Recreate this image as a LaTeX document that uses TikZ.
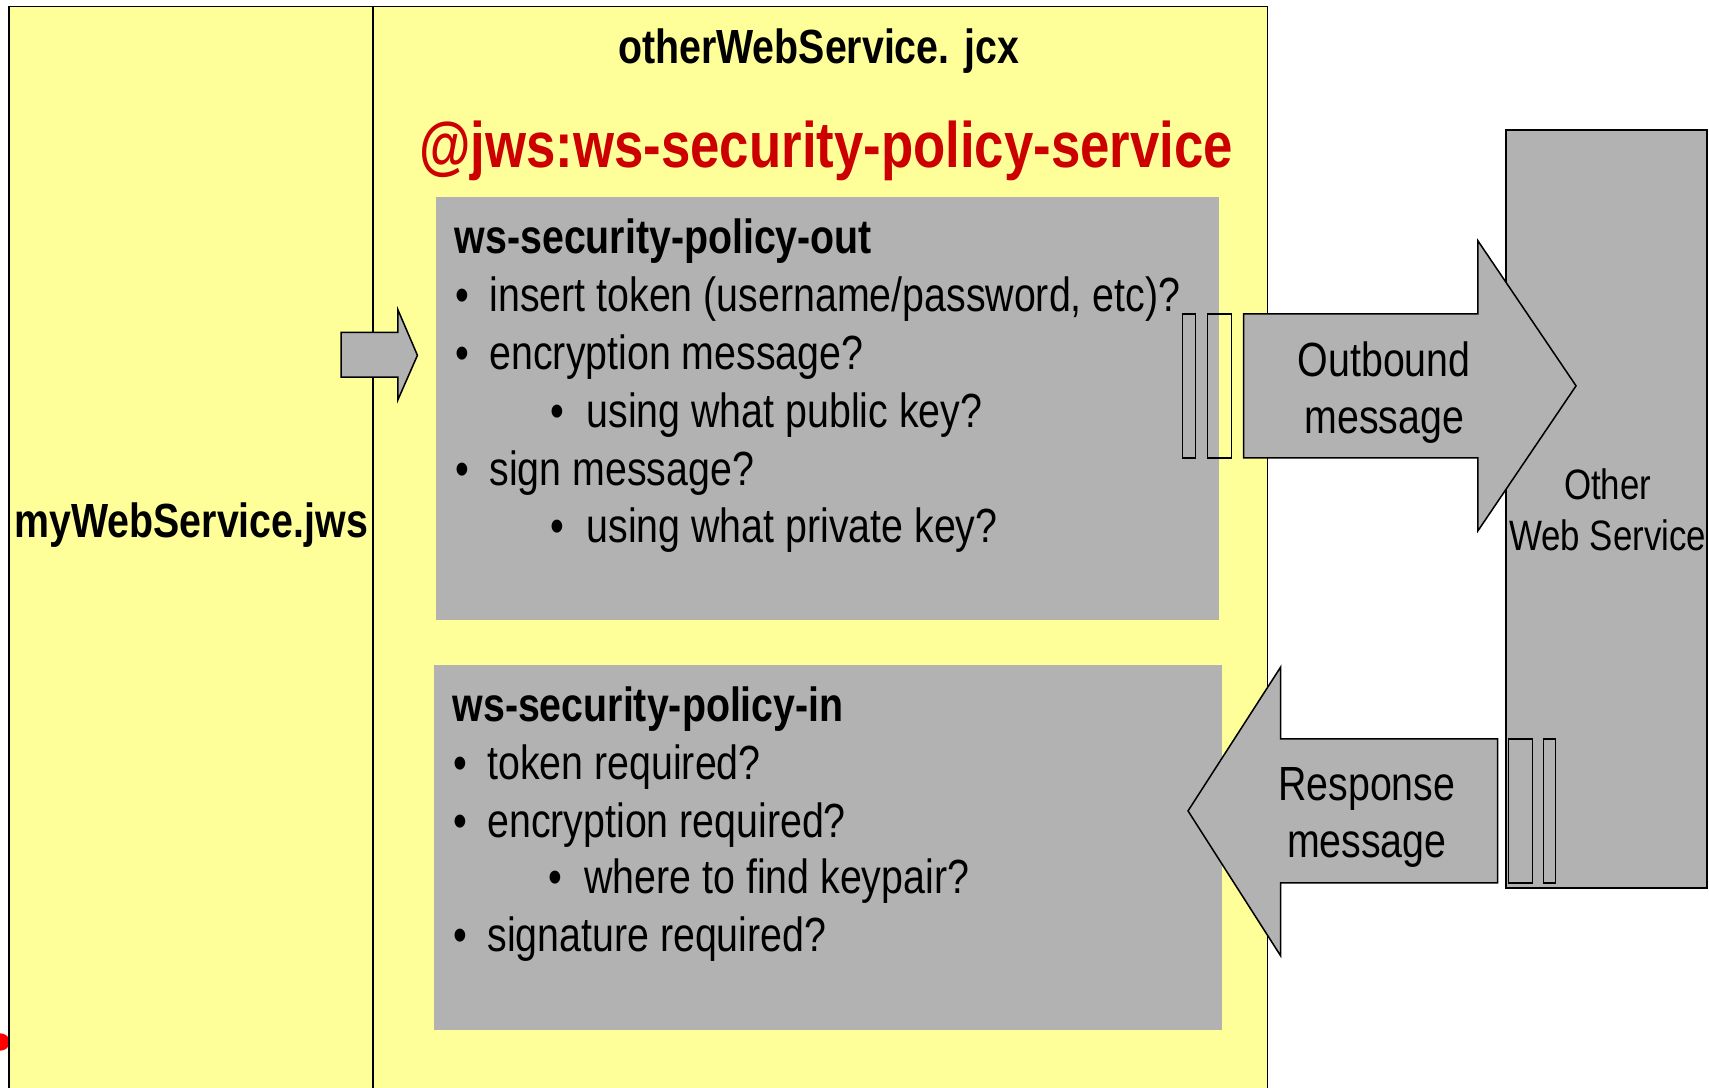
\documentclass[tikz,border=0pt]{standalone}
\usepackage{fontspec}
\setmainfont{Liberation Sans}[FakeStretch=0.82]
\definecolor{padyellow}{HTML}{FFFF99}
\definecolor{panelgray}{HTML}{B2B2B2}
\definecolor{annotred}{HTML}{CC0000}
\tikzset{
  frame/.style={draw=black, line width=1.6pt},
  panel/.style={fill=panelgray, draw=none},
  blockarrow/.style={fill=panelgray, draw=black, line width=1.4pt, line join=miter},
  slot/.style={draw=black, line width=1.4pt},
  txt/.style={inner sep=0pt, anchor=base west, font=\fontsize{44}{52.8}\selectfont},
  heading/.style={inner sep=0pt, anchor=base west, font=\bfseries\fontsize{44}{52.8}\selectfont},
  bullet/.style={inner sep=0pt, anchor=base, font=\fontsize{44}{52.8}\selectfont},
  label/.style={inner sep=0pt, align=center, font=\fontsize{44}{52.8}\selectfont},
}
\begin{document}
\begin{tikzpicture}[x=1pt, y=-1pt]
\useasboundingbox (0,0) rectangle (1568,998);
\clip (0,0) rectangle (1568,998);

% stray red mark at the left edge
\fill[red] (0,956) ellipse (9 and 8);

% outer yellow pane with the divider between the two files
\filldraw[fill=padyellow, frame] (8,6) rectangle (1163,1020);
\draw[frame] (342,6) -- (342,1020);

% policy panels
\fill[panel] (400,181) rectangle (1118,569);
\fill[panel] (398,610) rectangle (1121,945);

% call arrow from myWebService into the control
\draw[blockarrow] (313,305) -- (365,305) -- (365,284) -- (383,326)
  -- (365,367) -- (365,346) -- (313,346) -- cycle;

% remote service
\filldraw[fill=panelgray, frame] (1382,119) rectangle (1566,815);

% outbound message
\draw[blockarrow] (1141,288) -- (1356,288) -- (1356,221) -- (1446,354)
  -- (1356,487) -- (1356,420) -- (1141,420) -- cycle;
\draw[slot] (1085,288) rectangle (1097,420);
\draw[slot] (1108,288) rectangle (1130,420);

% response message
\draw[blockarrow] (1374,678) -- (1175,678) -- (1175,612) -- (1090,744)
  -- (1175,877) -- (1175,810) -- (1374,810) -- cycle;
\draw[slot] (1384,678) rectangle (1406,810);
\draw[slot] (1416,678) rectangle (1427,810);

% titles
\node[inner sep=0pt, anchor=base, font=\bfseries\fontsize{44}{52.8}\selectfont]
  (jcx) at (751,58) {otherWebService. jcx};
\node[inner sep=0pt, anchor=base, text=annotred, font=\bfseries\fontsize{59}{70}\selectfont]
  (anno) at (758,154) {@jws:ws-security-policy-service};
\node[inner sep=0pt, anchor=base, font=\bfseries\fontsize{44}{52.8}\selectfont]
  (jws) at (175.5,493) {myWebService.jws};

% outgoing policy
\node[heading] (outh) at (417,233) {ws-security-policy-out};
\node[bullet] (ob1) at (424,286) {•};
\node[txt] (ot1) at (449,286) {insert token (username/password, etc)?};
\node[bullet] (ob2) at (424,339) {•};
\node[txt] (ot2) at (449,339) {encryption message?};
\node[bullet] (ob3) at (511,392) {•};
\node[txt] (ot3) at (538,392) {using what public key?};
\node[bullet] (ob4) at (424,445) {•};
\node[txt] (ot4) at (449,445) {sign message?};
\node[bullet] (ob5) at (511,498) {•};
\node[txt] (ot5) at (538,498) {using what private key?};

% incoming policy
\node[heading] (inh) at (415,662) {ws-security-policy-in};
\node[bullet] (ib1) at (422,715) {•};
\node[txt] (it1) at (447,715) {token required?};
\node[bullet] (ib2) at (422,768) {•};
\node[txt] (it2) at (447,768) {encryption required?};
\node[bullet] (ib3) at (510,820) {•};
\node[txt] (it3) at (536,820) {where to find keypair?};
\node[bullet] (ib4) at (422,873) {•};
\node[txt] (it4) at (447,873) {signature required?};

% arrow and service labels
\node[label] (outmsg) at (1270,360) {Outbound\\message};
\node[label] (resmsg) at (1254,750) {Response\\message};
\node[label, font=\fontsize{39}{47}\selectfont] (other) at (1475,468) {Other\\Web Service};
\end{tikzpicture}
\end{document}
